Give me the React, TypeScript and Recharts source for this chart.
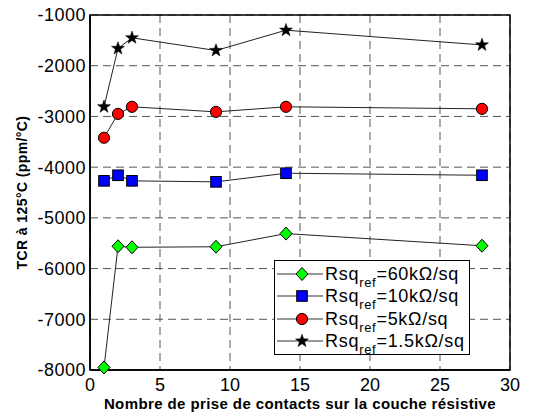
import React from 'react';
import { LineChart, Line, XAxis, YAxis, CartesianGrid, Legend, ReferenceArea } from 'recharts';

// nombre de prises de contact
const contacts = [1, 2, 3, 9, 14, 28];

// TCR à 125°C (ppm/°C) pour chaque Rsq de référence
const tcr60k = [-7950, -5560, -5580, -5570, -5310, -5550];
const tcr10k = [-4270, -4160, -4270, -4290, -4120, -4160];
const tcr5k = [-3420, -2950, -2810, -2910, -2810, -2850];
const tcr1k5 = [-2810, -1660, -1450, -1700, -1300, -1590];

const xTicks = [0, 5, 10, 15, 20, 25, 30];
const yTicks = [-8000, -7000, -6000, -5000, -4000, -3000, -2000, -1000];

const seriesKeys = ['r60', 'r10', 'r5', 'r15'];
const seriesValues = ['60kΩ/sq', '10kΩ/sq', '5kΩ/sq', '1.5kΩ/sq'];
const seriesMarkers = ['diamond', 'square', 'circle', 'star'];

const data = contacts.map((x, i) => ({
  x,
  r60: tcr60k[i],
  r10: tcr10k[i],
  r5: tcr5k[i],
  r15: tcr1k5[i],
}));

function starPath(cx: number, cy: number, ro: number, ri: number) {
  let d = '';
  for (let i = 0; i < 10; i++) {
    const r = i % 2 === 0 ? ro : ri;
    const a = -Math.PI / 2 + (i * Math.PI) / 5;
    d += (i === 0 ? 'M' : 'L') + (cx + r * Math.cos(a)).toFixed(2) + ',' + (cy + r * Math.sin(a)).toFixed(2);
  }
  return d + 'Z';
}

function marker(kind: string, cx: number, cy: number, key?: string) {
  if (kind === 'diamond')
    return <path key={key} d={`M${cx},${cy - 6.5}L${cx + 6},${cy}L${cx},${cy + 6.5}L${cx - 6},${cy}Z`} fill="#00ff00" stroke="#000" strokeWidth={1} />;
  if (kind === 'square')
    return <rect key={key} x={cx - 5.3} y={cy - 5.3} width={10.6} height={10.6} fill="#0000ff" stroke="#000" strokeWidth={1} />;
  if (kind === 'circle')
    return <circle key={key} cx={cx} cy={cy} r={5.6} fill="#ff0000" stroke="#000" strokeWidth={1} />;
  return <path key={key} d={starPath(cx, cy, 6.8, 2.7)} fill="#000" stroke="#000" strokeWidth={0.5} />;
}

const renderLegend = () => (
  <div style={{ border: '1.5px solid #000', background: '#fff', padding: '2px 0', boxSizing: 'border-box', width: 196, height: 95 }}>
    {seriesValues.map((v, i) => (
      <div key={v} style={{ display: 'flex', alignItems: 'center', height: 22.3 }}>
        <svg width={50} height={22}>
          <line x1={2} x2={48} y1={11} y2={11} stroke="#333" strokeWidth={1} />
          {marker(seriesMarkers[i], 27, 11)}
        </svg>
        <span style={{ fontSize: 18, lineHeight: '18px', letterSpacing: 0.7, whiteSpace: 'nowrap' }}>
          Rsq
          <span style={{ fontSize: 13, position: 'relative', top: 7, lineHeight: 0 }}>ref</span>
          ={v}
        </span>
      </div>
    ))}
  </div>
);

export default function App() {
  return (
    <div style={{ position: 'absolute', left: 0, top: 0, width: 547, height: 416, background: '#fff', fontFamily: '"Liberation Sans", Arial, sans-serif' }}>
      <LineChart width={547} height={416} data={data} margin={{ top: 15, right: 37, bottom: 0, left: 0 }}>
        <CartesianGrid stroke="#555" strokeDasharray="8 5" />
        <XAxis
          dataKey="x"
          type="number"
          domain={[0, 30]}
          ticks={xTicks}
          height={46}
          tickLine={false}
          tickSize={0}
          tickMargin={8}
          axisLine={{ stroke: '#000', strokeWidth: 1.5 }}
          tick={{ fill: '#000', fontSize: 18 }}
          label={{ value: 'Nombre de prise de contacts sur la couche résistive', position: 'insideBottom', offset: 7, style: { fontWeight: 'bold', fontSize: 15, letterSpacing: 0.4, fill: '#000' } }}
        />
        <YAxis
          type="number"
          domain={[-8000, -1000]}
          ticks={yTicks}
          width={90}
          tickLine={false}
          tickSize={0}
          tickMargin={4}
          axisLine={{ stroke: '#000', strokeWidth: 1.5 }}
          tick={{ fill: '#000', fontSize: 18, letterSpacing: 0.5 }}
          label={{ value: 'TCR à 125°C (ppm/°C)', angle: -90, position: 'insideLeft', offset: 22, style: { textAnchor: 'middle', fontWeight: 'bold', fontSize: 14, letterSpacing: 0.4, fill: '#000' } }}
        />
        <ReferenceArea x1={0} x2={30} y1={-8000} y2={-1000} fill="none" stroke="#000" strokeWidth={1.5} />
        {seriesKeys.map((k, i) => (
          <Line
            key={k}
            dataKey={k}
            stroke="#222"
            strokeWidth={1}
            isAnimationActive={false}
            dot={(p: any) => marker(seriesMarkers[i], p.cx, p.cy, `${k}-${p.index}`)}
            activeDot={false}
          />
        ))}
        <Legend
          layout="horizontal"
          verticalAlign="middle"
          align="center"
          content={renderLegend}
          wrapperStyle={{ left: 274, top: 260, width: 196, height: 95 }}
        />
      </LineChart>
    </div>
  );
}
